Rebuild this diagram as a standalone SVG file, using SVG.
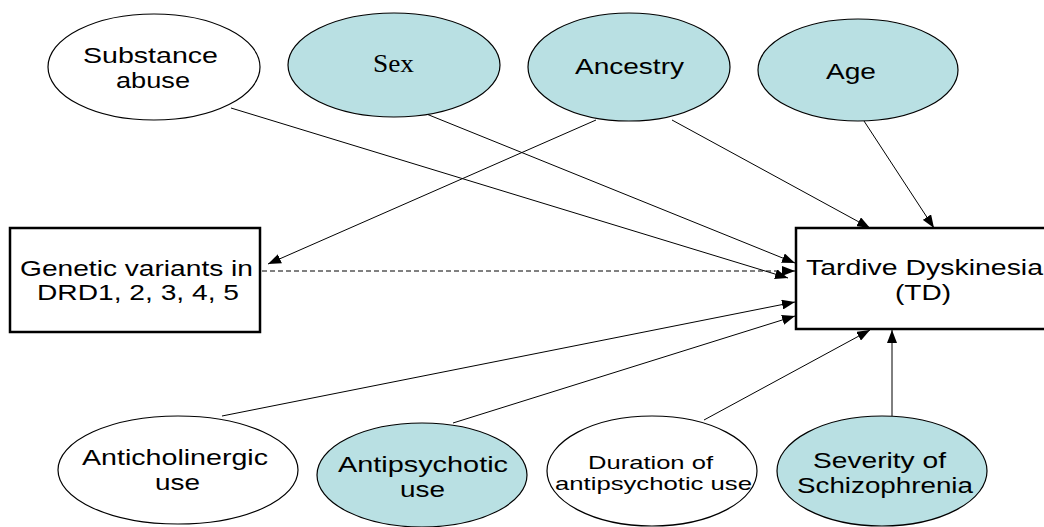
<svg xmlns="http://www.w3.org/2000/svg" width="1044" height="527" viewBox="0 0 1044 527">
<style>
.ow{fill:#ffffff;stroke:#000;stroke-width:1.2}
.ob{fill:#b9e0e3;stroke:#000;stroke-width:1.2}
.bx{fill:#ffffff;stroke:#000;stroke-width:2.5}
.t{font-family:"Liberation Sans",Arial,sans-serif;font-size:22px;fill:#000}
.ts{font-family:"Liberation Serif","Times New Roman",serif;font-size:25px;fill:#000}
.ln{stroke:#000;stroke-width:1;fill:none;marker-end:url(#ah)}
.dl{stroke:#000;stroke-width:1;fill:none;stroke-dasharray:5,3;marker-end:url(#ah)}
</style>
<defs>
<marker id="ah" viewBox="0 0 13 10" refX="13" refY="5" markerWidth="13" markerHeight="10" markerUnits="userSpaceOnUse" orient="auto">
<path d="M0,0 L13,5 L0,10 Z" fill="#000"/>
</marker>
</defs>
<rect width="1044" height="527" fill="#fff"/>
<g id="connectors">
<line class="ln" x1="231" y1="108" x2="788" y2="278"/>
<line class="ln" x1="424" y1="113" x2="795" y2="263"/>
<line class="dl" x1="262" y1="271" x2="795" y2="271"/>
<line class="ln" x1="596" y1="120" x2="268" y2="264"/>
<line class="ln" x1="672" y1="120" x2="870" y2="228"/>
<line class="ln" x1="864" y1="121" x2="934" y2="228"/>
<line class="ln" x1="222" y1="416" x2="795" y2="302"/>
<line class="ln" x1="453" y1="423" x2="795" y2="316"/>
<line class="ln" x1="704" y1="420" x2="870" y2="330"/>
<line class="ln" x1="892" y1="416" x2="892" y2="330"/>
</g>
<g id="substance">
<ellipse class="ow" cx="154" cy="67" rx="106" ry="53"/>
<text class="t" x="83" y="63" textLength="135" lengthAdjust="spacingAndGlyphs">Substance</text>
<text class="t" x="116" y="88" textLength="74" lengthAdjust="spacingAndGlyphs">abuse</text>
</g>
<g id="sex">
<ellipse class="ob" cx="394" cy="65" rx="106" ry="52"/>
<text class="ts" x="373" y="72" textLength="41" lengthAdjust="spacingAndGlyphs">Sex</text>
</g>
<g id="ancestry">
<ellipse class="ob" cx="629" cy="67" rx="101" ry="54"/>
<text class="t" x="575" y="74" textLength="109" lengthAdjust="spacingAndGlyphs">Ancestry</text>
</g>
<g id="age">
<ellipse class="ob" cx="858" cy="70" rx="100" ry="51"/>
<text class="t" x="826" y="79" textLength="50" lengthAdjust="spacingAndGlyphs">Age</text>
</g>
<g id="genetic">
<rect class="bx" x="10" y="228" width="250" height="104"/>
<text class="t" x="20" y="276" textLength="233" lengthAdjust="spacingAndGlyphs">Genetic variants in</text>
<text class="t" x="37" y="300" textLength="202" lengthAdjust="spacingAndGlyphs">DRD1, 2, 3, 4, 5</text>
</g>
<g id="td">
<rect class="bx" x="796" y="228" width="252" height="101"/>
<text class="t" x="806" y="275" textLength="237" lengthAdjust="spacingAndGlyphs">Tardive Dyskinesia</text>
<text class="t" x="895" y="300" textLength="56" lengthAdjust="spacingAndGlyphs">(TD)</text>
</g>
<g id="anticholinergic">
<ellipse class="ow" cx="178" cy="470" rx="120" ry="54"/>
<text class="t" x="82" y="465" textLength="186" lengthAdjust="spacingAndGlyphs">Anticholinergic</text>
<text class="t" x="155" y="490" textLength="45" lengthAdjust="spacingAndGlyphs">use</text>
</g>
<g id="antipsychotic">
<ellipse class="ob" cx="422" cy="475" rx="105" ry="52"/>
<text class="t" x="338" y="472" textLength="170" lengthAdjust="spacingAndGlyphs">Antipsychotic</text>
<text class="t" x="400" y="497" textLength="45" lengthAdjust="spacingAndGlyphs">use</text>
</g>
<g id="duration">
<ellipse class="ow" cx="652" cy="471" rx="105" ry="55"/>
<text class="t" style="font-size:19px" x="588" y="469" textLength="125" lengthAdjust="spacingAndGlyphs">Duration of</text>
<text class="t" style="font-size:19px" x="555" y="490" textLength="197" lengthAdjust="spacingAndGlyphs">antipsychotic use</text>
</g>
<g id="severity">
<ellipse class="ob" cx="882" cy="471" rx="105" ry="55"/>
<text class="t" x="813" y="468" textLength="133" lengthAdjust="spacingAndGlyphs">Severity of</text>
<text class="t" x="797" y="493" textLength="176" lengthAdjust="spacingAndGlyphs">Schizophrenia</text>
</g>
</svg>
